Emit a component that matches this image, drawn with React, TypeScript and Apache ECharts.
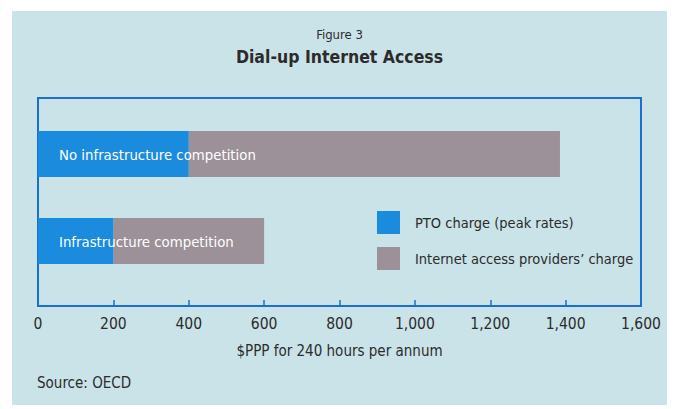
import React, { useEffect, useRef } from "react";
import * as echarts from "echarts";

const categories = ["Infrastructure competition", "No infrastructure competition"];
const ptoCharge = [200, 400];
const ispCharge = [400, 985];
const seriesNames = ["PTO charge (peak rates)", "Internet access providers\u2019 charge"];
const xTicks = { min: 0, max: 1600, interval: 200 };

const FONT = "'DejaVu Sans Condensed', 'Liberation Sans Narrow', 'Noto Sans', sans-serif";
const TEXT = "#2b2b2b";
const BLUE = "#1b8bde";
const GRAY = "#9c9198";
const FRAME = "#1c6fcc";
const BG = "#cae3e8";

export default function App() {
  const ref = useRef<HTMLDivElement>(null);
  useEffect(() => {
    if (!ref.current) return;
    const chart = echarts.init(ref.current, undefined, { renderer: "svg" });
    chart.setOption({
      animation: false,
      backgroundColor: "#ffffff",
      textStyle: { fontFamily: FONT },
      graphic: [
        { type: "rect", z: -10, shape: { x: 12, y: 11, width: 655, height: 394 }, style: { fill: BG } },
        {
          type: "text",
          left: 37,
          top: 375,
          style: { text: "Source: OECD", fill: TEXT, fontSize: 15, fontFamily: FONT },
        },
      ],
      title: [
        {
          text: "Figure 3",
          left: "center",
          top: 28,
          padding: 0,
          textStyle: { fontSize: 13, fontWeight: "normal", color: TEXT, fontFamily: FONT },
        },
        {
          text: "Dial-up Internet Access",
          left: "center",
          top: 48,
          padding: 0,
          textStyle: { fontSize: 17.5, fontWeight: "bold", color: TEXT, fontFamily: FONT },
        },
      ],
      legend: {
        orient: "vertical",
        left: 377,
        top: 211,
        padding: 0,
        itemWidth: 23,
        itemHeight: 23,
        itemGap: 13,
        icon: "rect",
        data: seriesNames,
        textStyle: { fontSize: 14.5, color: TEXT, fontFamily: FONT, padding: [0, 0, 0, 10] },
      },
      grid: [
        { left: 38, right: 38, top: 98, bottom: 103, show: true, borderColor: FRAME, borderWidth: 2, backgroundColor: "transparent" },
        { left: 38, right: 38, top: 110.5, bottom: 124.5 },
      ],
      xAxis: [
        {
          gridIndex: 0,
          type: "value",
          min: xTicks.min,
          max: xTicks.max,
          interval: xTicks.interval,
          splitLine: { show: false },
          axisLine: { show: true, lineStyle: { color: FRAME, width: 2 } },
          axisTick: { show: true, inside: true, length: 6, lineStyle: { color: FRAME, width: 1.5 } },
          axisLabel: {
            color: TEXT,
            fontSize: 15.5,
            fontFamily: FONT,
            margin: 10,
            formatter: (v: number) => v.toLocaleString("en-US"),
          },
          name: "$PPP for 240 hours per annum",
          nameLocation: "middle",
          nameGap: 37,
          nameTextStyle: { color: TEXT, fontSize: 15, fontFamily: FONT },
        },
        { gridIndex: 1, type: "value", min: xTicks.min, max: xTicks.max, show: false },
      ],
      yAxis: [
        { gridIndex: 0, type: "category", data: categories, show: false },
        { gridIndex: 1, type: "category", data: categories, show: false },
      ],
      series: [
        {
          name: seriesNames[0],
          type: "bar",
          xAxisIndex: 1,
          yAxisIndex: 1,
          stack: "total",
          barWidth: 46,
          data: ptoCharge,
          itemStyle: { color: BLUE },
          label: {
            show: true,
            position: "insideLeft",
            distance: 21,
            formatter: "{b}",
            color: "#ffffff",
            fontSize: 14.8,
            fontFamily: FONT,
          },
          z: 3,
        },
        {
          name: seriesNames[1],
          type: "bar",
          xAxisIndex: 1,
          yAxisIndex: 1,
          stack: "total",
          barWidth: 46,
          data: ispCharge,
          itemStyle: { color: GRAY },
          z: 2,
        },
      ],
    });
    return () => chart.dispose();
  }, []);
  return (
    <div
      ref={ref}
      style={{ position: "fixed", left: 0, top: 0, width: 679, height: 409 }}
    />
  );
}
